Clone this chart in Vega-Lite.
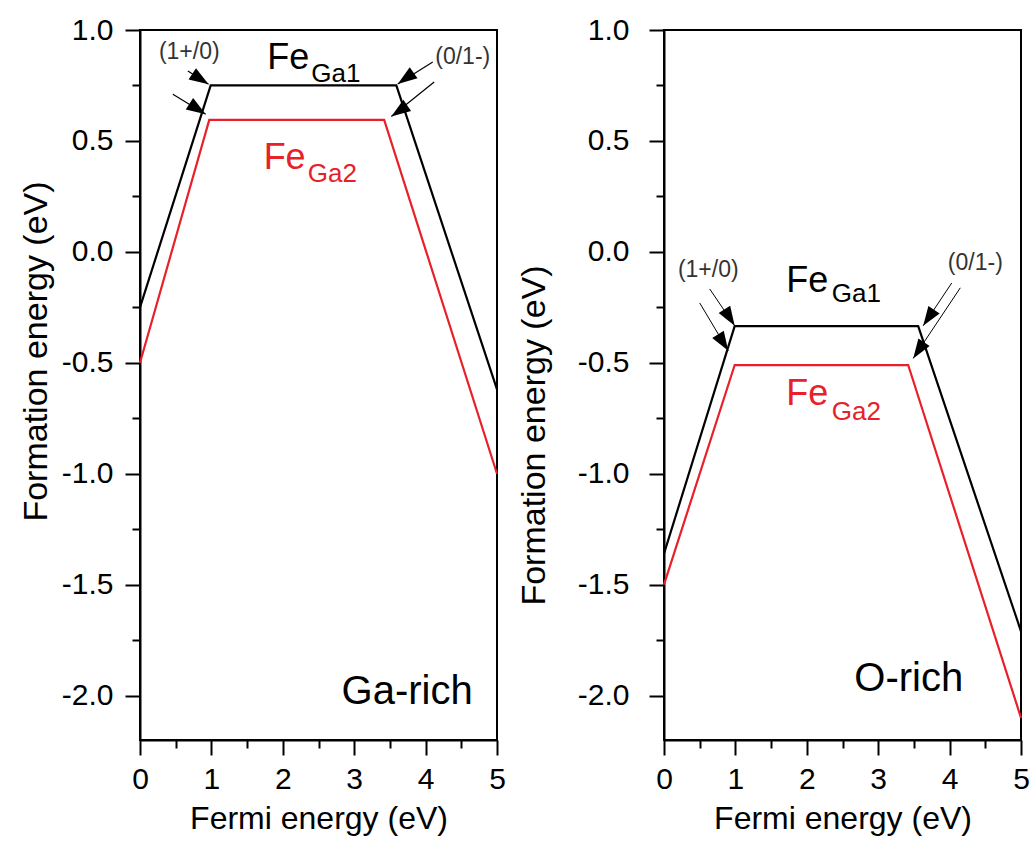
{
  "$schema": "https://vega.github.io/schema/vega-lite/v6.json",
  "padding": {"left": 18, "top": 14, "right": 5, "bottom": 5},
  "spacing": 9,
  "background": "white",
  "config": {
    "font": "Liberation Sans",
    "view": {"stroke": "black", "strokeWidth": 2},
    "axis": {
      "grid": false,
      "domainColor": "black",
      "domainWidth": 2,
      "tickColor": "black",
      "tickWidth": 2,
      "labelFont": "Liberation Sans",
      "labelFontSize": 30,
      "labelColor": "black",
      "labelOverlap": false,
      "labelFlush": false,
      "titleFont": "Liberation Sans",
      "titleFontWeight": "normal",
      "titleColor": "black"
    }
  },
  "datasets": {
    "linesGa": [
      {"fermi": 0, "energy": -0.25, "defect": "FeGa1"},
      {"fermi": 0.99, "energy": 0.75, "defect": "FeGa1"},
      {"fermi": 3.59, "energy": 0.75, "defect": "FeGa1"},
      {"fermi": 5, "energy": -0.62, "defect": "FeGa1"},
      {"fermi": 0, "energy": -0.5, "defect": "FeGa2"},
      {"fermi": 0.97, "energy": 0.595, "defect": "FeGa2"},
      {"fermi": 3.42, "energy": 0.595, "defect": "FeGa2"},
      {"fermi": 5, "energy": -1.0, "defect": "FeGa2"}
    ],
    "linesO": [
      {"fermi": 0, "energy": -1.36, "defect": "FeGa1"},
      {"fermi": 0.99, "energy": -0.335, "defect": "FeGa1"},
      {"fermi": 3.56, "energy": -0.335, "defect": "FeGa1"},
      {"fermi": 5, "energy": -1.71, "defect": "FeGa1"},
      {"fermi": 0, "energy": -1.5, "defect": "FeGa2"},
      {"fermi": 0.99, "energy": -0.51, "defect": "FeGa2"},
      {"fermi": 3.42, "energy": -0.51, "defect": "FeGa2"},
      {"fermi": 5, "energy": -2.1, "defect": "FeGa2"}
    ],
    "arrowsGa": [
      {"fermi": 0.67, "energy": 0.815, "fermi2": 0.96, "energy2": 0.755, "side": "left"},
      {"fermi": 0.46, "energy": 0.71, "fermi2": 0.92, "energy2": 0.62, "side": "left"},
      {"fermi": 4.1, "energy": 0.856, "fermi2": 3.61, "energy2": 0.757, "side": "right"},
      {"fermi": 4.12, "energy": 0.766, "fermi2": 3.52, "energy2": 0.61, "side": "right"}
    ],
    "arrowsO": [
      {"fermi": 0.64, "energy": -0.167, "fermi2": 0.99, "energy2": -0.333, "side": "left"},
      {"fermi": 0.5, "energy": -0.23, "fermi2": 0.9, "energy2": -0.446, "side": "left"},
      {"fermi": 4.03, "energy": -0.14, "fermi2": 3.63, "energy2": -0.333, "side": "right"},
      {"fermi": 4.15, "energy": -0.162, "fermi2": 3.49, "energy2": -0.48, "side": "right"}
    ],
    "notesGa": [
      {"fermi": 0.69, "energy": 0.9, "label": "(1+/0)"},
      {"fermi": 4.52, "energy": 0.88, "label": "(0/1-)"}
    ],
    "notesO": [
      {"fermi": 0.62, "energy": -0.08, "label": "(1+/0)"},
      {"fermi": 4.36, "energy": -0.05, "label": "(0/1-)"}
    ],
    "feGa": [
      {"fermi": 2.37, "energy": 0.824, "label": "Fe", "defect": "FeGa1"},
      {"fermi": 2.32, "energy": 0.374, "label": "Fe", "defect": "FeGa2"}
    ],
    "subGa": [
      {"fermi": 2.4, "energy": 0.766, "label": "Ga1", "defect": "FeGa1"},
      {"fermi": 2.35, "energy": 0.315, "label": "Ga2", "defect": "FeGa2"}
    ],
    "feO": [
      {"fermi": 2.3, "energy": -0.18, "label": "Fe", "defect": "FeGa1"},
      {"fermi": 2.3, "energy": -0.69, "label": "Fe", "defect": "FeGa2"}
    ],
    "subO": [
      {"fermi": 2.35, "energy": -0.225, "label": "Ga1", "defect": "FeGa1"},
      {"fermi": 2.35, "energy": -0.757, "label": "Ga2", "defect": "FeGa2"}
    ],
    "condGa": [{"fermi": 4.66, "energy": -2.036, "label": "Ga-rich"}],
    "condO": [{"fermi": 4.19, "energy": -1.98, "label": "O-rich"}]
  },
  "hconcat": [
    {
      "width": 357,
      "height": 710,
      "encoding": {
        "x": {
          "field": "fermi", "type": "quantitative",
          "scale": {"domain": [0, 5], "nice": false, "zero": false},
          "axis": {
            "title": "Fermi energy (eV)",
            "titleFontSize": 32,
            "titlePadding": 9,
            "values": [0, 0.5, 1, 1.5, 2, 2.5, 3, 3.5, 4, 4.5, 5],
            "labelExpr": "datum.value % 1 === 0 ? format(datum.value, 'd') : ''",
            "tickSize": {"condition": {"test": "datum.value % 1 !== 0", "value": 8}, "value": 15},
            "labelPadding": 9
          }
        },
        "y": {
          "field": "energy", "type": "quantitative",
          "scale": {"domain": [-2.2, 1.0], "nice": false, "zero": false},
          "axis": {
            "title": "Formation energy (eV)",
            "titleFontSize": 34,
            "titlePadding": 8,
            "titleY": 321,
            "values": [-2, -1.75, -1.5, -1.25, -1, -0.75, -0.5, -0.25, 0, 0.25, 0.5, 0.75, 1],
            "labelExpr": "(datum.value * 2) % 1 === 0 ? replace(format(datum.value, '.1f'), '\u2212', '-') : ''",
            "tickSize": {"condition": {"test": "(datum.value * 2) % 1 !== 0", "value": 8}, "value": 15},
            "labelPadding": 12
          }
        }
      },
      "layer": [
        {
          "data": {"name": "linesGa"},
          "mark": {"type": "line", "strokeWidth": 2.2},
          "encoding": {
            "color": {"field": "defect", "type": "nominal", "scale": {"domain": ["FeGa1", "FeGa2"], "range": ["#000000", "#e8202a"]}, "legend": null}
          }
        },
        {
          "data": {"name": "arrowsGa"},
          "mark": {"type": "rule", "color": "black", "strokeWidth": 1.2},
          "encoding": {"x2": {"field": "fermi2"}, "y2": {"field": "energy2"}}
        },
        {
          "data": {"name": "arrowsGa"},
          "transform": [{"filter": "datum.side === 'left'"}],
          "mark": {"type": "point", "shape": "M0,0L-0.35,1L0.35,1Z", "size": 1500, "filled": true, "color": "black", "opacity": 1, "strokeWidth": 0, "angle": 123},
          "encoding": {"x": {"field": "fermi2", "type": "quantitative"}, "y": {"field": "energy2", "type": "quantitative"}}
        },
        {
          "data": {"name": "arrowsGa"},
          "transform": [{"filter": "datum.side === 'right'"}],
          "mark": {"type": "point", "shape": "M0,0L-0.35,1L0.35,1Z", "size": 1500, "filled": true, "color": "black", "opacity": 1, "strokeWidth": 0, "angle": 235},
          "encoding": {"x": {"field": "fermi2", "type": "quantitative"}, "y": {"field": "energy2", "type": "quantitative"}}
        },
        {
          "data": {"name": "notesGa"},
          "mark": {"type": "text", "fontSize": 23, "color": "#333333", "align": "center", "baseline": "middle"},
          "encoding": {"text": {"field": "label"}}
        },
        {
          "data": {"name": "feGa"},
          "mark": {"type": "text", "fontSize": 36, "align": "right", "baseline": "alphabetic"},
          "encoding": {"text": {"field": "label"}, "color": {"field": "defect", "type": "nominal", "legend": null}}
        },
        {
          "data": {"name": "subGa"},
          "mark": {"type": "text", "fontSize": 26, "align": "left", "baseline": "alphabetic"},
          "encoding": {"text": {"field": "label"}, "color": {"field": "defect", "type": "nominal", "legend": null}}
        },
        {
          "data": {"name": "condGa"},
          "mark": {"type": "text", "fontSize": 40, "color": "black", "align": "right", "baseline": "alphabetic"},
          "encoding": {"text": {"field": "label"}}
        }
      ]
    },
    {
      "width": 357,
      "height": 710,
      "encoding": {
        "x": {
          "field": "fermi", "type": "quantitative",
          "scale": {"domain": [0, 5], "nice": false, "zero": false},
          "axis": {
            "title": "Fermi energy (eV)",
            "titleFontSize": 32,
            "titlePadding": 9,
            "values": [0, 0.5, 1, 1.5, 2, 2.5, 3, 3.5, 4, 4.5, 5],
            "labelExpr": "datum.value % 1 === 0 ? format(datum.value, 'd') : ''",
            "tickSize": {"condition": {"test": "datum.value % 1 !== 0", "value": 8}, "value": 15},
            "labelPadding": 9
          }
        },
        "y": {
          "field": "energy", "type": "quantitative",
          "scale": {"domain": [-2.2, 1.0], "nice": false, "zero": false},
          "axis": {
            "title": "Formation energy (eV)",
            "titleFontSize": 34,
            "titlePadding": 26,
            "titleY": 405,
            "values": [-2, -1.75, -1.5, -1.25, -1, -0.75, -0.5, -0.25, 0, 0.25, 0.5, 0.75, 1],
            "labelExpr": "(datum.value * 2) % 1 === 0 ? replace(format(datum.value, '.1f'), '\u2212', '-') : ''",
            "tickSize": {"condition": {"test": "(datum.value * 2) % 1 !== 0", "value": 8}, "value": 15},
            "labelPadding": 20
          }
        }
      },
      "layer": [
        {
          "data": {"name": "linesO"},
          "mark": {"type": "line", "strokeWidth": 2.2},
          "encoding": {
            "color": {"field": "defect", "type": "nominal", "scale": {"domain": ["FeGa1", "FeGa2"], "range": ["#000000", "#e8202a"]}, "legend": null}
          }
        },
        {
          "data": {"name": "arrowsO"},
          "mark": {"type": "rule", "color": "black", "strokeWidth": 1},
          "encoding": {"x2": {"field": "fermi2"}, "y2": {"field": "energy2"}}
        },
        {
          "data": {"name": "arrowsO"},
          "transform": [{"filter": "datum.side === 'left'"}],
          "mark": {"type": "point", "shape": "M0,0L-0.35,1L0.35,1Z", "size": 1500, "filled": true, "color": "black", "opacity": 1, "strokeWidth": 0, "angle": 148},
          "encoding": {"x": {"field": "fermi2", "type": "quantitative"}, "y": {"field": "energy2", "type": "quantitative"}}
        },
        {
          "data": {"name": "arrowsO"},
          "transform": [{"filter": "datum.side === 'right'"}],
          "mark": {"type": "point", "shape": "M0,0L-0.35,1L0.35,1Z", "size": 1500, "filled": true, "color": "black", "opacity": 1, "strokeWidth": 0, "angle": 214},
          "encoding": {"x": {"field": "fermi2", "type": "quantitative"}, "y": {"field": "energy2", "type": "quantitative"}}
        },
        {
          "data": {"name": "notesO"},
          "mark": {"type": "text", "fontSize": 23, "color": "#333333", "align": "center", "baseline": "middle"},
          "encoding": {"text": {"field": "label"}}
        },
        {
          "data": {"name": "feO"},
          "mark": {"type": "text", "fontSize": 36, "align": "right", "baseline": "alphabetic"},
          "encoding": {"text": {"field": "label"}, "color": {"field": "defect", "type": "nominal", "legend": null}}
        },
        {
          "data": {"name": "subO"},
          "mark": {"type": "text", "fontSize": 26, "align": "left", "baseline": "alphabetic"},
          "encoding": {"text": {"field": "label"}, "color": {"field": "defect", "type": "nominal", "legend": null}}
        },
        {
          "data": {"name": "condO"},
          "mark": {"type": "text", "fontSize": 40, "color": "black", "align": "right", "baseline": "alphabetic"},
          "encoding": {"text": {"field": "label"}}
        }
      ]
    }
  ]
}
